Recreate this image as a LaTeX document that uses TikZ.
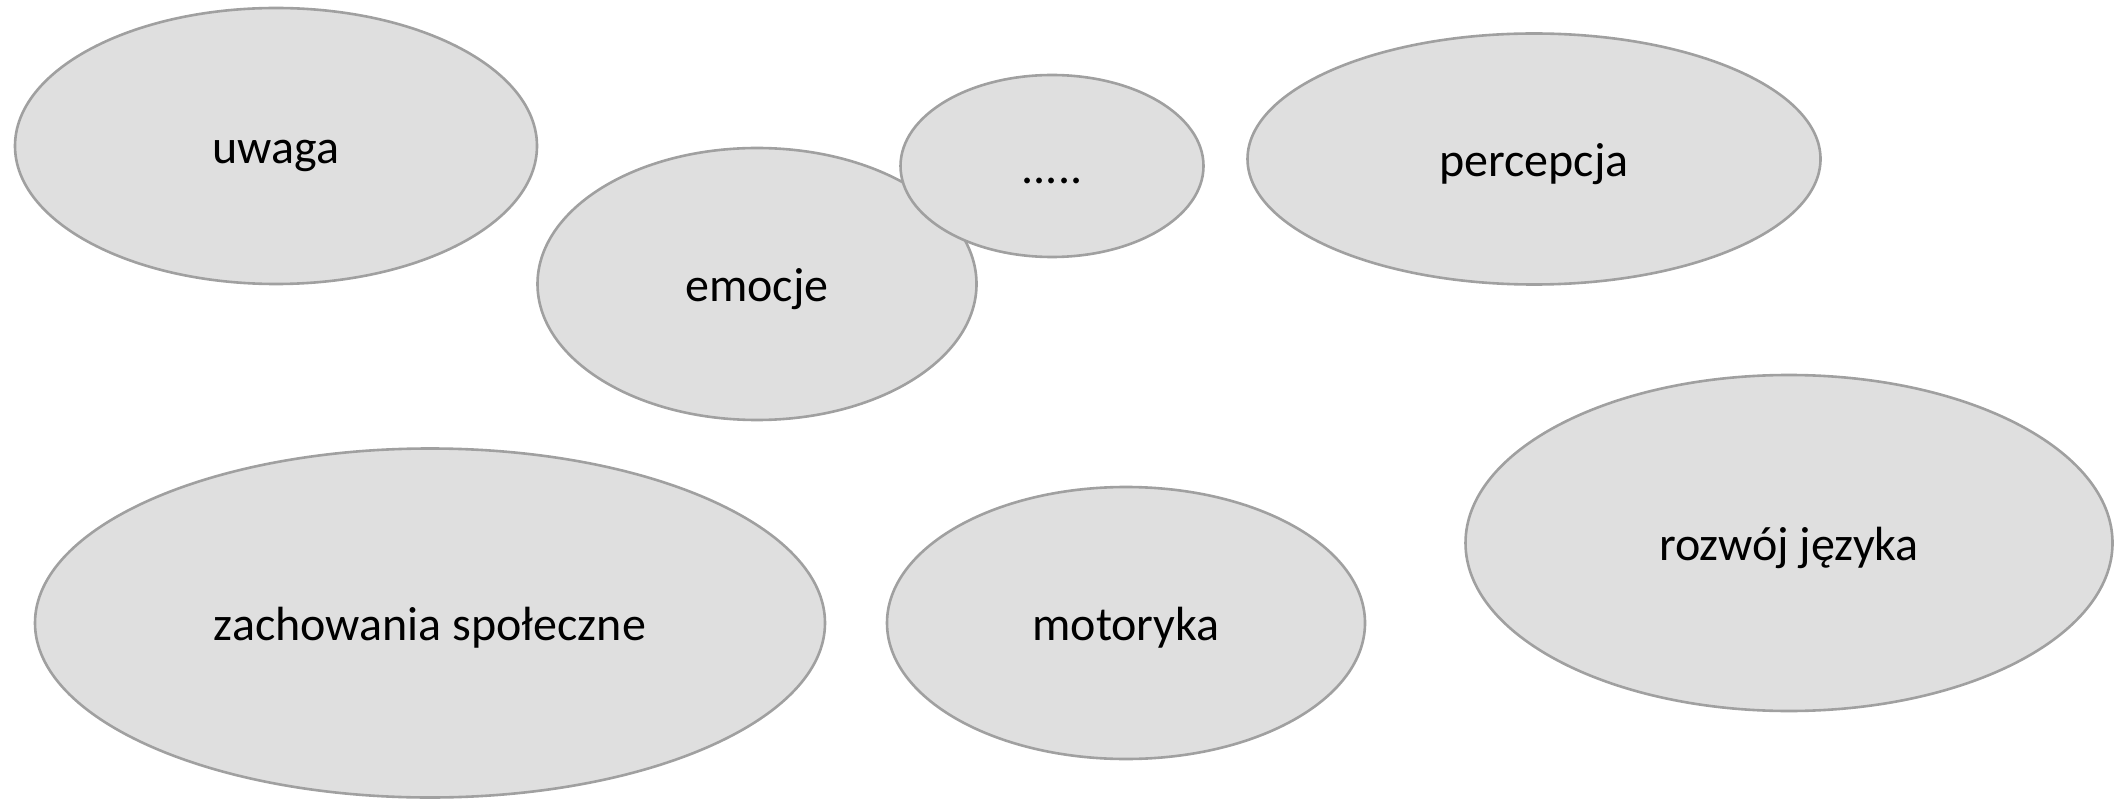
\documentclass[tikz,border=0pt]{standalone}
\usepackage{fontspec}
\setmainfont{Carlito}
\usetikzlibrary{shapes.geometric}
\definecolor{blobfill}{HTML}{DFDFDF}
\definecolor{blobline}{HTML}{A0A0A0}
\tikzset{
  blob/.style={ellipse, draw=blobline, fill=blobfill, line width=2.6pt, inner sep=0pt,
    font=\fontsize{48}{56}\selectfont, text=black, text height=43pt, text depth=8pt}
}
\begin{document}
\begin{tikzpicture}[x=1pt,y=-1pt]
\useasboundingbox (0,0) rectangle (2124,799);
\node[blob, minimum width=522pt, minimum height=276pt] (uwaga) at (276,146) {uwaga};
\node[blob, minimum width=439pt, minimum height=272pt] (emocje) at (757,284) {emocje};
\node[blob, minimum width=303pt, minimum height=182pt] (dots) at (1052,166) {.....};
\node[blob, minimum width=573pt, minimum height=251pt] (percepcja) at (1534,159) {percepcja};
\node[blob, minimum width=790pt, minimum height=349pt] (zach) at (430,623) {zachowania społeczne};
\node[blob, minimum width=478pt, minimum height=272pt] (motoryka) at (1126,623) {motoryka};
\node[blob, minimum width=647pt, minimum height=336pt] (jezyk) at (1789,543) {rozwój języka};
\end{tikzpicture}
\end{document}
